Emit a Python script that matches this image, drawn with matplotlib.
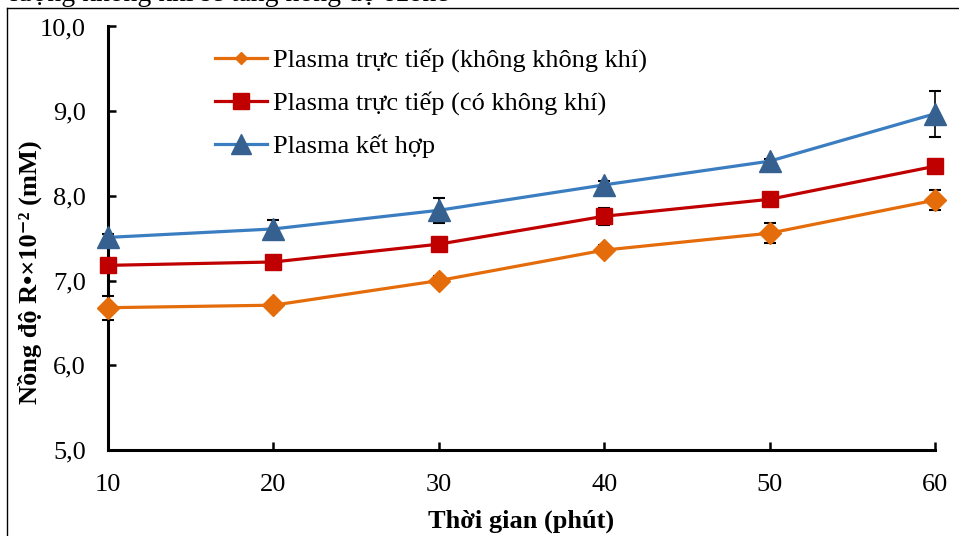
import numpy as np
import matplotlib
matplotlib.use("Agg")
import matplotlib.pyplot as plt
from matplotlib.lines import Line2D

plt.rcParams['font.family'] = ['Liberation Serif', 'DejaVu Serif']

# time points (minutes)
time_min = [10, 20, 30, 40, 50, 60]

# R• concentration (x10^-2 mM) and standard deviations
direct_no_air = [6.68, 6.71, 7.00, 7.36, 7.56, 7.95]
direct_no_air_err = [0.14, 0.05, 0.05, 0.06, 0.12, 0.12]
direct_air = [7.18, 7.22, 7.43, 7.76, 7.96, 8.35]
direct_air_err = [0.04, 0.04, 0.07, 0.10, 0.04, 0.04]
combined = [7.51, 7.61, 7.83, 8.13, 8.41, 8.97]
combined_err = [0.04, 0.11, 0.15, 0.05, 0.03, 0.27]

series_labels = ['Plasma trực tiếp (không không khí)',
                 'Plasma trực tiếp (có không khí)',
                 'Plasma kết hợp']

FS = 19

fig = plt.figure(figsize=(9.59, 5.36), dpi=100)
ax = fig.add_axes([0.1126, 0.1604, 0.8624, 0.7902])

styles = [
    dict(color='#E46C0A', marker='D', ms=11.5, mfc='#E46C0A', mec='#E46C0A'),
    dict(color='#C00000', marker='s', ms=12, mfc='#C00000', mec='#C00000'),
    dict(color='#3A7DC0', marker='^', ms=15.5, mfc='#36608F', mec='#36608F'),
]
legend_ms = [6, 11.5, 14.5]
data = [(direct_no_air, direct_no_air_err),
        (direct_air, direct_air_err),
        (combined, combined_err)]

for (vals, errs), st, lab in zip(data, styles, series_labels):
    ax.errorbar(time_min, vals, yerr=errs, fmt='none', ecolor='black',
                elinewidth=1.2, capsize=4, capthick=1.5, zorder=2, clip_on=False)
    ax.plot(time_min, vals, lw=2.3, label=lab, zorder=3, clip_on=False, **st)

ax.set_xlim(10, 60)
ax.set_ylim(5.0, 10.0)
ax.set_xticks(time_min)
yt = np.arange(5.0, 10.01, 1.0)
ax.set_yticks(yt)
ax.set_yticklabels([f'{v:.1f}'.replace('.', ',') for v in yt])

for side in ['top', 'right']:
    ax.spines[side].set_visible(False)
for side in ['left', 'bottom']:
    ax.spines[side].set_linewidth(2.2)
ax.tick_params(axis='both', direction='in', length=6, width=1.8, labelsize=FS)
ax.tick_params(axis='x', pad=17)
ax.tick_params(axis='y', pad=16)

ax.set_xlabel('Thời gian (phút)', fontsize=FS, fontweight='bold', labelpad=10)
ax.set_ylabel('Nồng độ R•×10⁻² (mM)', fontsize=FS, fontweight='bold')
ax.yaxis.set_label_coords(-0.08, 0.42)

leg = ax.legend(loc='upper left', bbox_to_anchor=(0.199, 0.954),
                bbox_transform=fig.transFigure, frameon=False, fontsize=FS,
                handlelength=2.0, handletextpad=0.2, labelspacing=0.72)
for h, m in zip(leg.legend_handles, legend_ms):
    h.set_markersize(m)

# page border and the clipped line of text above the chart
fig.add_artist(Line2D([7 / 959, 7 / 959], [0, 1 - 8 / 536],
                      transform=fig.transFigure, color='black', lw=1))
fig.add_artist(Line2D([7 / 959, 1], [1 - 8 / 536, 1 - 8 / 536],
                      transform=fig.transFigure, color='black', lw=1))
fig.text(10 / 959, 1 - 1 / 536, 'lượng không khí sẽ tăng nồng độ ozone',
         fontsize=20, va='baseline', ha='left')

fig.savefig('out.png', dpi=100)
